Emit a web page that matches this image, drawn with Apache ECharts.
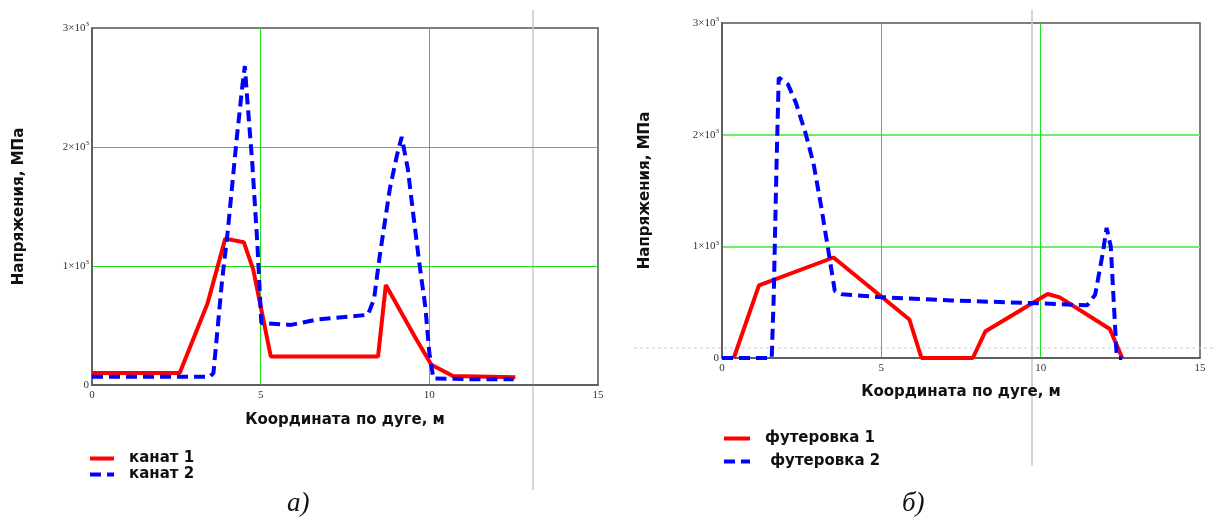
<!DOCTYPE html>
<html><head><meta charset="utf-8">
<script src="https://cdn.jsdelivr.net/npm/echarts@6/dist/echarts.min.js"></script>
<style>html,body{margin:0;padding:0;background:#fff}#c{width:1214px;height:525px}</style>
</head><body><div id="c"></div>
<script>
// ---- data ----
const kanat1X = [0, 2.6, 3.43, 3.95, 4.5, 4.78, 5.3, 8.48, 8.71, 9.6, 10.06, 10.7, 12.55];
const kanat1Y = [100, 100, 690, 1230, 1200, 970, 240, 240, 840, 390, 170, 75, 65];
const kanat2X = [0, 3.5, 3.6, 3.85, 4.02, 4.29, 4.46, 4.53, 4.6, 4.75, 4.9, 5.02, 5.9, 6.66, 8.18, 8.36, 8.53, 8.83, 9.04, 9.18, 9.36, 9.53, 9.7, 9.88, 10.0, 10.12, 11.35, 12.5];
const kanat2Y = [70, 70, 100, 860, 1280, 2070, 2520, 2680, 2410, 1870, 1200, 520, 505, 550, 590, 720, 1085, 1650, 1930, 2085, 1820, 1420, 1030, 660, 270, 55, 48, 48];
const fut1X = [0.37, 1.16, 3.5, 5.88, 6.26, 7.87, 8.27, 10.22, 10.6, 12.17, 12.56];
const fut1Y = [0, 650, 900, 345, 0, 0, 240, 573, 543, 260, 0];
const fut2X = [0, 1.56, 1.62, 1.71, 1.78, 2.07, 2.32, 2.62, 2.87, 3.11, 3.35, 3.54, 3.78, 5.0, 7.2, 9.63, 11.46, 11.71, 11.95, 12.07, 12.2, 12.29, 12.38, 12.44, 12.56];
const fut2Y = [0, 0, 520, 1715, 2510, 2450, 2285, 2015, 1745, 1360, 940, 600, 570, 545, 515, 493, 472, 567, 940, 1165, 1000, 520, 45, 0, 0];
const xTicks = [0, 5, 10, 15];
const yTicks = [0, 1000, 2000, 3000];
const names = ['канат 1', 'канат 2', 'футеровка 1', ' футеровка 2'];
const xTitle = 'Координата по дуге, м';
const yTitle = 'Напряжения, МПа';
const captions = ['а)', 'б)'];

const pairs = (xs, ys) => xs.map((x, i) => [x, ys[i]]);
const chart = echarts.init(document.getElementById('c'));
const tickFont = {fontFamily: 'Liberation Serif', fontSize: 11, color: '#333'};
const titleFont = {fontFamily: 'DejaVu Sans', fontWeight: 'bold', fontSize: 15, color: '#111'};
const T = 'rgba(0,0,0,0)';
function yFmt(v) {
  if (v === 0) return '{m|0}';
  return '{m|' + (v / 1000) + '×10}{s|3}';
}
function xAxis(i) {
  return {
    type: 'value', gridIndex: i, min: xTicks[0], max: xTicks[3], interval: 5,
    name: xTitle, nameLocation: 'middle', nameGap: i === 0 ? 28 : 27, nameTextStyle: titleFont,
    axisLine: {show: true, lineStyle: {color: '#555', width: 1.5}},
    axisTick: {show: false},
    axisLabel: Object.assign({margin: 5}, tickFont),
    splitLine: {show: true, lineStyle: {color: [T, '#1ee01e', '#1ee01e', T], width: 1}}
  };
}
function yAxis(i) {
  const g = i === 0 ? '#1ee01e' : '#6fea6f';
  return {
    type: 'value', gridIndex: i, min: yTicks[0], max: yTicks[3], interval: 1000,
    name: yTitle, nameLocation: 'middle', nameGap: i === 0 ? 65 : 69, nameTextStyle: titleFont,
    axisLine: {show: true, lineStyle: {color: '#555', width: 1.5}},
    axisTick: {show: false},
    axisLabel: {margin: 3, formatter: yFmt, rich: {
      m: {fontFamily: 'Liberation Serif', fontSize: 11, color: '#333'},
      s: {fontFamily: 'Liberation Serif', fontSize: 7, color: '#333', verticalAlign: 'top', padding: [0, 0, 7, 0]}
    }},
    splitLine: {show: true, lineStyle: {color: [T, g, g, T], width: i === 0 ? 1 : 2}}
  };
}
function line(name, data, i, color, dashed) {
  return {
    type: 'line', name: name, xAxisIndex: i, yAxisIndex: i, data: data,
    showSymbol: false, symbol: 'none', animation: false,
    lineStyle: {color: color, width: 4, type: dashed ? [11, 6] : 'solid'},
    itemStyle: {color: color}
  };
}
const legendText = {fontFamily: 'DejaVu Sans', fontWeight: 'bold', fontSize: 15, color: '#111', padding: [0, 0, 0, 10]};
const legendCommon = {orient: 'vertical', itemHeight: 14, padding: 0, textStyle: legendText,
  itemStyle: {opacity: 0, borderWidth: 0}, lineStyle: {width: 4}};
chart.setOption({
  animation: false,
  grid: [
    {left: 92, top: 28, width: 506, height: 357, show: true, borderColor: '#555', borderWidth: 1.5, backgroundColor: '#fff'},
    {left: 722, top: 23, width: 478, height: 335, show: true, borderColor: '#555', borderWidth: 1.5, backgroundColor: '#fff'}
  ],
  xAxis: [xAxis(0), xAxis(1)],
  yAxis: [yAxis(0), yAxis(1)],
  legend: [
    Object.assign({data: [names[0], names[1]], left: 88, top: 451, itemWidth: 24, itemGap: 1}, legendCommon),
    Object.assign({data: [names[2], names[3]], left: 722, top: 431, itemWidth: 26, itemGap: 8}, legendCommon)
  ],
  series: [
    line(names[0], pairs(kanat1X, kanat1Y), 0, '#ff0000', false),
    line(names[1], pairs(kanat2X, kanat2Y), 0, '#0000ff', true),
    line(names[2], pairs(fut1X, fut1Y), 1, '#ff0000', false),
    line(names[3], pairs(fut2X, fut2Y), 1, '#0000ff', true)
  ],
  graphic: [
    {type: 'line', shape: {x1: 533, y1: 10, x2: 533, y2: 490}, style: {stroke: '#c8c8c8', lineWidth: 1.5}, z: 0},
    {type: 'line', shape: {x1: 1032, y1: 10, x2: 1032, y2: 466}, style: {stroke: '#c8c8c8', lineWidth: 1.5}, z: 0},
    {type: 'line', shape: {x1: 634, y1: 348, x2: 1214, y2: 348}, style: {stroke: '#cccccc', lineWidth: 1, lineDash: [3, 3]}, z: 0},
    {type: 'text', left: 287, top: 490, style: {text: captions[0], font: 'italic 27px "Liberation Serif"', fill: '#111'}},
    {type: 'text', left: 902, top: 490, style: {text: captions[1], font: 'italic 27px "Liberation Serif"', fill: '#111'}}
  ]
});
</script></body></html>
